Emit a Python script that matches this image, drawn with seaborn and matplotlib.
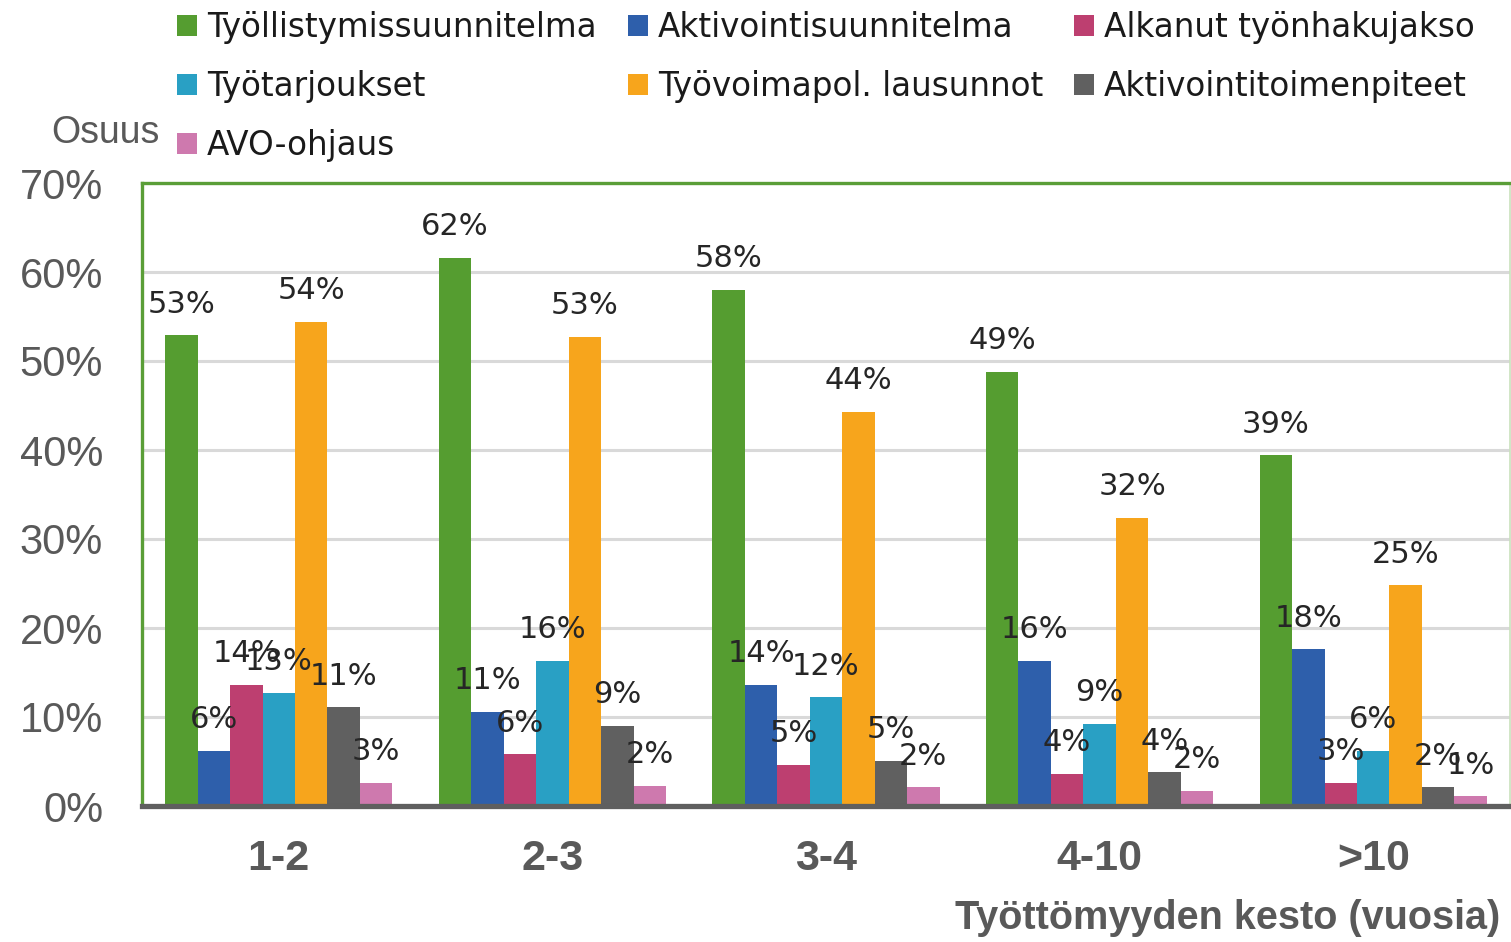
import matplotlib
matplotlib.use("Agg")
import matplotlib.pyplot as plt
import seaborn as sns
import pandas as pd
import numpy as np

# ---------------- data ----------------
categories = ["1-2", "2-3", "3-4", "4-10", ">10"]
series = ["Työllistymissuunnitelma", "Aktivointisuunnitelma", "Alkanut työnhakujakso",
          "Työtarjoukset", "Työvoimapol. lausunnot", "Aktivointitoimenpiteet", "AVO-ohjaus"]
tyollistymissuunnitelma = [52.9, 61.6, 58.0, 48.8, 39.4]
aktivointisuunnitelma = [6.2, 10.6, 13.6, 16.3, 17.6]
alkanut_tyonhakujakso = [13.6, 5.8, 4.6, 3.6, 2.6]
tyotarjoukset = [12.7, 16.3, 12.2, 9.2, 6.2]
tyovoimapol_lausunnot = [54.4, 52.7, 44.3, 32.4, 24.8]
aktivointitoimenpiteet = [11.1, 9.0, 5.1, 3.8, 2.1]
avo_ohjaus = [2.6, 2.3, 2.1, 1.7, 1.1]
y_ticks = [0, 10, 20, 30, 40, 50, 60, 70]

colors = ["#559D30", "#2E5FAB", "#BD3F70", "#29A0C4", "#F7A51C", "#606060", "#CE79AE"]

values = [tyollistymissuunnitelma, aktivointisuunnitelma, alkanut_tyonhakujakso,
          tyotarjoukset, tyovoimapol_lausunnot, aktivointitoimenpiteet, avo_ohjaus]
rows = []
for s, vals in zip(series, values):
    for c, v in zip(categories, vals):
        rows.append({"kesto": c, "sarja": s, "osuus": v})
df = pd.DataFrame(rows)

# ---------------- figure ----------------
sns.set_theme(style="white")
plt.rcParams["font.family"] = ["DejaVu Sans"]

fig = plt.figure(figsize=(15.11, 9.42), dpi=100)
ax = fig.add_axes([142 / 1511, (942 - 806) / 942, (1510 - 142) / 1511, (806 - 183) / 942])

sns.barplot(data=df, x="kesto", y="osuus", hue="sarja", order=categories, hue_order=series,
            palette=colors, saturation=1, width=0.83, gap=0, ax=ax, errorbar=None,
            linewidth=0)

ax.set_ylim(0, 70)
ax.set_xlim(-0.5, 4.5)
ax.set_yticks(y_ticks)
ax.set_yticklabels([f"{t}%" for t in y_ticks], fontsize=30, color="#595959",
                   family="Liberation Sans")
ax.set_xticks(range(len(categories)))
ax.set_xticklabels(categories, fontsize=31, fontweight="bold", color="#595959",
                   family="Liberation Sans")
ax.tick_params(axis="y", length=0, pad=28)
ax.tick_params(axis="x", length=0, pad=24)
ax.set_xlabel("")
ax.set_ylabel("")

ax.yaxis.grid(True, color="#D9D9D9", linewidth=2.2)
ax.set_axisbelow(True)

for side in ["top", "left"]:
    ax.spines[side].set_color("#5A9E37")
    ax.spines[side].set_linewidth(2.4)
ax.spines["right"].set_color("#C9E2BC")
ax.spines["right"].set_linewidth(1.2)
ax.spines["bottom"].set_color("#5F5F5F")
ax.spines["bottom"].set_linewidth(3.8)

# data labels
for cont in ax.containers:
    labels = [f"{v:.0f}%" for v in cont.datavalues]
    ax.bar_label(cont, labels=labels, padding=12, fontsize=22, color="#262626")

# legend (row-wise order, 3 columns)
handles, labs = ax.get_legend_handles_labels()
if ax.get_legend():
    ax.get_legend().remove()
order = [0, 3, 6, 1, 4, 2, 5]
leg = fig.legend([handles[i] for i in order], [labs[i] for i in order], ncol=3,
                 loc="upper left", bbox_to_anchor=(177 / 1511, 1 - 11 / 942),
                 frameon=False, fontsize=23.5, handlelength=0.62, handleheight=0.62,
                 handletextpad=0.3, columnspacing=0.95, labelspacing=0.8,
                 borderpad=0, borderaxespad=0)
for t in leg.get_texts():
    t.set_color("#1a1a1a")

fig.text(160 / 1511, 1 - 133 / 942, "Osuus", ha="right", va="center", fontsize=27,
         color="#595959", family="Liberation Sans")
fig.text(1500 / 1511, 1 - 918 / 942, "Työttömyyden kesto (vuosia)", ha="right", va="center",
         fontsize=28.5, fontweight="bold", color="#595959", family="Liberation Sans")

fig.savefig("out.png", dpi=100)
